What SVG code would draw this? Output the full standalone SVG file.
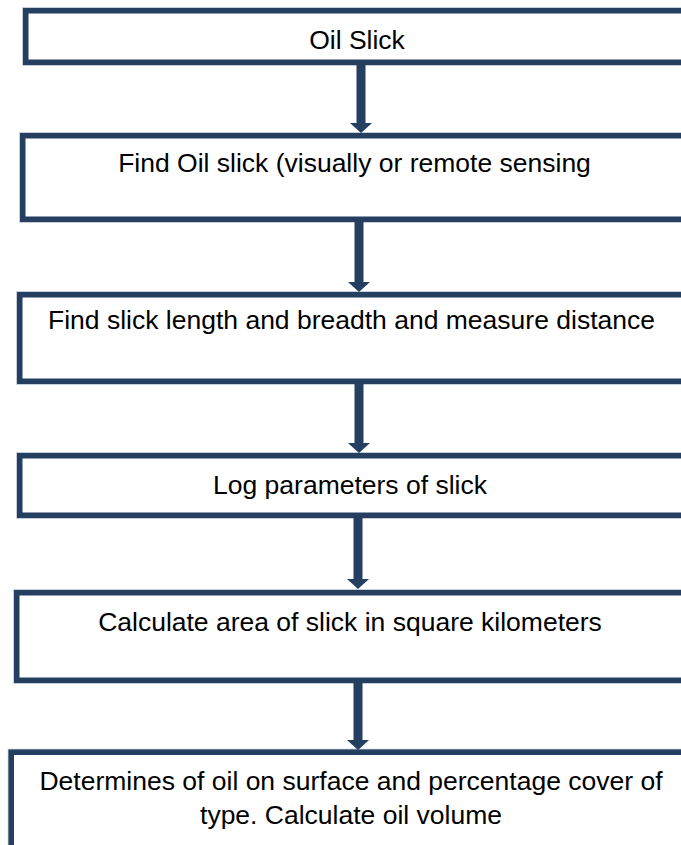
<svg xmlns="http://www.w3.org/2000/svg" width="681" height="845" viewBox="0 0 681 845">
<defs>
<style>
.halo{fill:none;stroke:#b3bfce;stroke-width:7}
.box{fill:#ffffff;stroke:#243f60;stroke-width:5.5}
.lbl{font-family:"Liberation Sans",Arial,sans-serif;font-size:26.5px;fill:#000000;text-anchor:middle}
.conn{stroke:#243f60;stroke-width:9;fill:none}
.head{fill:#243f60}
</style>
</defs>
<rect width="681" height="845" fill="#ffffff"/>
<g id="node1">
<rect class="halo" x="25.75" y="10.75" width="700" height="51.5"/>
<rect class="box" x="25.75" y="10.75" width="700" height="51.5"/>
<text class="lbl" x="357" y="49">Oil Slick</text>
</g>
<g id="node2">
<rect class="halo" x="22.75" y="135.75" width="700" height="83.5"/>
<rect class="box" x="22.75" y="135.75" width="700" height="83.5"/>
<text class="lbl" x="354.5" y="172">Find Oil slick (visually or remote sensing</text>
</g>
<g id="node3">
<rect class="halo" x="19.75" y="294.75" width="700" height="86.5"/>
<rect class="box" x="19.75" y="294.75" width="700" height="86.5"/>
<text class="lbl" x="351.5" y="329">Find slick length and breadth and measure distance</text>
</g>
<g id="node4">
<rect class="halo" x="19.75" y="455.75" width="700" height="59.5"/>
<rect class="box" x="19.75" y="455.75" width="700" height="59.5"/>
<text class="lbl" x="350" y="494">Log parameters of slick</text>
</g>
<g id="node5">
<rect class="halo" x="16.75" y="592.75" width="700" height="87.5"/>
<rect class="box" x="16.75" y="592.75" width="700" height="87.5"/>
<text class="lbl" x="350" y="631">Calculate area of slick in square kilometers</text>
</g>
<g id="node6">
<rect class="halo" x="11.25" y="752.25" width="700" height="200"/>
<rect class="box" x="11.25" y="752.25" width="700" height="200"/>
<text class="lbl" x="351" y="790">Determines of oil on surface and percentage cover of</text>
<text class="lbl" x="351" y="824">type. Calculate oil volume</text>
</g>
<g id="connectors">
<line class="conn" x1="361" y1="65" x2="361" y2="124"/>
<polygon class="head" points="350,123 372,123 361,133"/>
<line class="conn" x1="359" y1="222" x2="359" y2="283"/>
<polygon class="head" points="348,282 370,282 359,292"/>
<line class="conn" x1="359" y1="384" x2="359" y2="444"/>
<polygon class="head" points="348,443 370,443 359,453"/>
<line class="conn" x1="358" y1="518" x2="358" y2="580"/>
<polygon class="head" points="347,579 369,579 358,589"/>
<line class="conn" x1="358" y1="683" x2="358" y2="741"/>
<polygon class="head" points="347,740 369,740 358,750"/>
</g>
</svg>
